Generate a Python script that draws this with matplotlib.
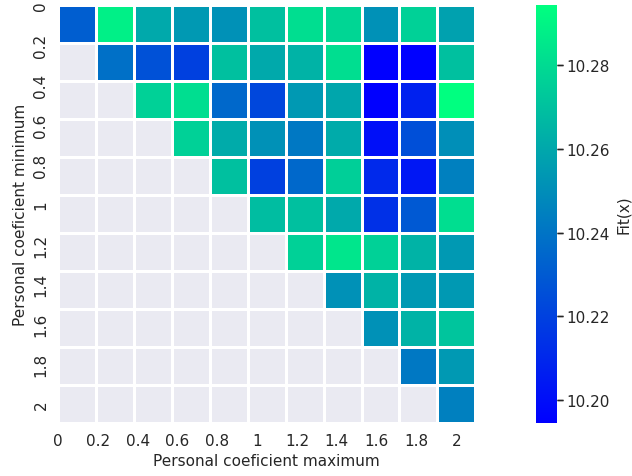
import numpy as np
import matplotlib
matplotlib.use("Agg")
import matplotlib.pyplot as plt
import seaborn as sns

# coefficient values (axis labels)
coef_labels = ['0', '0.2', '0.4', '0.6', '0.8', '1', '1.2', '1.4', '1.6', '1.8', '2']
cbar_ticks = [10.20, 10.22, 10.24, 10.26, 10.28]

nan = np.nan
# Fit(x) for each (minimum, maximum) pair; lower triangle not evaluated
row_0 = [10.2314, 10.2883, 10.2604, 10.2544, 10.2514, 10.2694, 10.2813, 10.2783, 10.2514, 10.2763, 10.2574]
row_1 = [nan, 10.2384, 10.2264, 10.2195, 10.2694, 10.2604, 10.2644, 10.2813, 10.1945, 10.1950, 10.2694]
row_2 = [nan, nan, 10.2763, 10.2813, 10.2354, 10.2224, 10.2544, 10.2594, 10.1948, 10.2075, 10.2943]
row_3 = [nan, nan, nan, 10.2763, 10.2614, 10.2514, 10.2414, 10.2614, 10.2005, 10.2254, 10.2504]
row_4 = [nan, nan, nan, nan, 10.2694, 10.2195, 10.2354, 10.2753, 10.2105, 10.2035, 10.2444]
row_5 = [nan, nan, nan, nan, nan, 10.2684, 10.2694, 10.2604, 10.2135, 10.2294, 10.2813]
row_6 = [nan, nan, nan, nan, nan, nan, 10.2763, 10.2843, 10.2763, 10.2644, 10.2544]
row_7 = [nan, nan, nan, nan, nan, nan, nan, 10.2514, 10.2644, 10.2544, 10.2544]
row_8 = [nan, nan, nan, nan, nan, nan, nan, nan, 10.2514, 10.2644, 10.2713]
row_9 = [nan, nan, nan, nan, nan, nan, nan, nan, nan, 10.2414, 10.2544]
row_10 = [nan, nan, nan, nan, nan, nan, nan, nan, nan, nan, 10.2444]

fit = np.array([row_0, row_1, row_2, row_3, row_4, row_5, row_6,
                row_7, row_8, row_9, row_10])

sns.set_style("darkgrid")
plt.rcParams['font.size'] = 11

fig = plt.figure(figsize=(6.32, 4.77), dpi=100)
ax = fig.add_axes([0.092, 0.111, 0.660, 0.876])
cax = fig.add_axes([0.848, 0.111, 0.033, 0.876])

sns.heatmap(fit, mask=np.isnan(fit), cmap="winter", linewidths=0.75,
            linecolor="white", ax=ax, cbar_ax=cax,
            cbar_kws={"label": "Fit(x)", "ticks": cbar_ticks})

# tick positions as in the original (slightly stretched spacing)
pos = np.arange(len(coef_labels)) * 1.05
ax.set_xticks(pos)
ax.set_xticklabels(coef_labels, rotation=0, fontsize=11)
ax.set_yticks(pos)
ax.set_yticklabels(coef_labels, rotation=90, va="center", fontsize=11)
ax.tick_params(left=False, bottom=False)
ax.grid(False)
ax.set_xlabel("Personal coeficient maximum", fontsize=11)
ax.set_ylabel("Personal coeficient minimum", fontsize=11)

cax.set_yticklabels(["10.20", "10.22", "10.24", "10.26", "10.28"], fontsize=11)
cax.tick_params(axis='y', right=True, length=4, width=1, color='0.15', pad=3)
# short tick dashes next to the colorbar labels
cax.plot(np.ones(len(cbar_ticks)), cbar_ticks, linestyle='none',
         marker=matplotlib.markers.TICKRIGHT, markersize=4,
         markeredgewidth=1, color='0.15', clip_on=False, zorder=5)
cax.set_xlim(0, 1)
cax.set_ylabel("Fit(x)", fontsize=11)

fig.savefig("out.png", dpi=100)
